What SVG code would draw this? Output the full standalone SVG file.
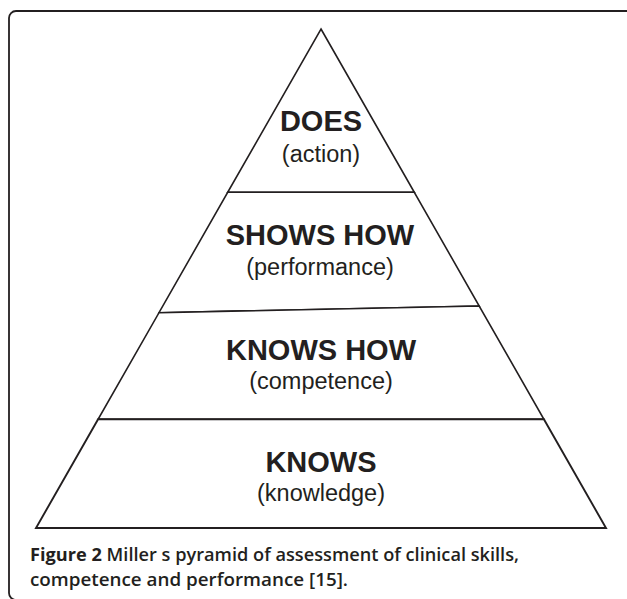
<svg xmlns="http://www.w3.org/2000/svg" width="627" height="599" viewBox="0 0 627 599">
  <style>
    .tier { fill: #ffffff; stroke: #231f20; stroke-width: 1.6; stroke-linejoin: miter; }
    .title { font-family: "Liberation Sans", Arial, sans-serif; font-weight: bold; font-size: 29px; fill: #231f20; text-anchor: middle; }
    .sub { font-family: "Liberation Sans", Arial, sans-serif; font-size: 23.5px; fill: #231f20; text-anchor: middle; }
    .caption { font-family: "Open Sans", "Noto Sans", sans-serif; font-size: 18.5px; font-weight: 600; fill: #231f20; }
    .frame { fill: none; stroke: #231f20; stroke-width: 1.8; }
  </style>
  <rect width="627" height="599" fill="#ffffff"/>

  <!-- panel frame: open to the right and bottom -->
  <path class="frame" d="M627,11 H16 A7,7 0 0 0 9,18 V593 A7,7 0 0 0 16,600 H627"/>

  <!-- pyramid tiers, top to bottom -->
  <g id="does">
    <polygon class="tier" points="321,29 414.3,192.3 227.7,192.3"/>
    <text class="title" x="321" y="131">DOES</text>
    <text class="sub" x="321" y="162">(action)</text>
  </g>
  <g id="shows-how">
    <polygon class="tier" points="227.7,192.3 414.3,192.3 479.2,306 159,312.7"/>
    <text class="title" x="320" y="245">SHOWS HOW</text>
    <text class="sub" x="320" y="275">(performance)</text>
  </g>
  <g id="knows-how">
    <polygon class="tier" points="159,312.7 479.2,306 543.9,419.3 98.1,419.3"/>
    <text class="title" x="321" y="359.5">KNOWS HOW</text>
    <text class="sub" x="321" y="388.5">(competence)</text>
  </g>
  <g id="knows">
    <polygon class="tier" points="98.1,419.3 543.9,419.3 606,528 36,528" style="stroke-width:1.9"/>
    <text class="title" x="321" y="472">KNOWS</text>
    <text class="sub" x="321" y="500.5">(knowledge)</text>
  </g>

  <!-- caption -->
  <g id="caption">
    <text class="caption" x="30" y="561" textLength="489" lengthAdjust="spacingAndGlyphs"><tspan font-weight="bold">Figure 2</tspan> Miller s pyramid of assessment of clinical skills,</text>
    <text class="caption" x="30" y="586" textLength="318" lengthAdjust="spacingAndGlyphs">competence and performance [15].</text>
  </g>
</svg>
